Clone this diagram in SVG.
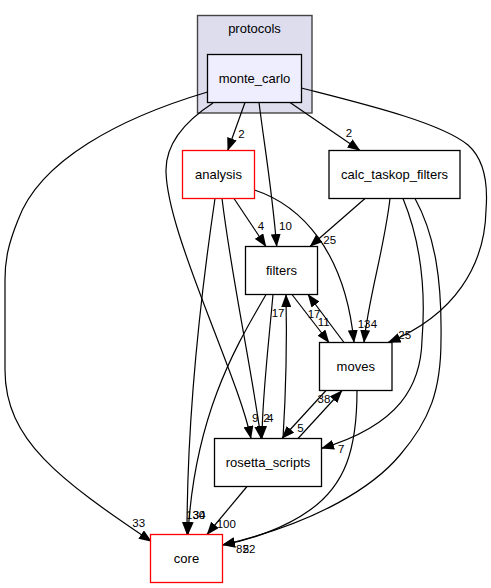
<svg xmlns="http://www.w3.org/2000/svg" width="491" height="588" viewBox="0 0 491 588">
<style>
.node rect{fill:#ffffff;stroke:#000000;stroke-width:1.3}
.red rect{stroke:#ff0000}
.mc rect{fill:#eeeeff}
.cl{fill:#ddddee;stroke:#444444;stroke-width:1.4}
text{font-family:"Liberation Sans",Arial,sans-serif;fill:#000}
.nt{font-size:13px;text-anchor:middle}
.el{font-size:11.5px}
#edges path{fill:none;stroke:#000;stroke-width:1.2;marker-end:url(#ah)}
</style>
<defs>
<marker id="ah" markerUnits="userSpaceOnUse" markerWidth="13" markerHeight="10" viewBox="0 0 13 10" refX="12.5" refY="5" orient="auto">
<path d="M0,0 L13,5 L0,10 Z" fill="#000"/>
</marker>
</defs>
<rect width="491" height="588" fill="#ffffff"/>
<g id="cluster_protocols">
<rect class="cl" x="197.5" y="15.5" width="114.5" height="97.5"/>
<text class="nt" x="254.5" y="33.3">protocols</text>
</g>
<g id="edges">
<path d="M245,102.5 L227.7,150.5"/>
<path d="M290,102.5 L360,150.5"/>
<path d="M259,102.5 C265,150 272,190 276.7,246.5"/>
<path d="M301.5,88 C360,103 440,122 468,145 C485,160 488,185 486,210 C485,265 455,315 388,342.5"/>
<path d="M207.5,92 C120,118 40,160 18,220 C8,245 5,260 5,280 L5,370 C5,440 60,480 151.5,541.5"/>
<path d="M213,103 C190,118 165,140 166,172 C167,205 185,255 210,320 C230,372 245,410 251,438.5"/>
<path d="M234,198.5 L266,246.5"/>
<path d="M254.5,190 C300,205 345,250 354,342.5"/>
<path d="M215,198.5 C200,300 187,420 187,534.5"/>
<path d="M222,198.5 C232,280 250,360 261,438.5"/>
<path d="M266,294.5 C240,340 195,410 188,534.5"/>
<path d="M273,294.5 C268,350 262,400 262,438.5"/>
<path d="M283,438.5 C286,390 287,340 286,294.5"/>
<path d="M292,294.5 L329,342.5"/>
<path d="M344,342.5 L308,294.5"/>
<path d="M365,198.5 L310,246.5"/>
<path d="M390,198.5 C384,250 368,300 364,342.5"/>
<path d="M403,198.5 C420,240 426,290 422,340 C421,385 400,425 321.5,448.3"/>
<path d="M415,198.5 C435,235 442,280 441,340 C441,390 430,420 400,455 C375,485 320,522 222.5,545"/>
<path d="M357,390.5 C357,450 345,485 310,510 C285,528 250,540 222.5,545"/>
<path d="M326,390.5 L282,438.5"/>
<path d="M298,438.5 L342,390.5"/>
<path d="M247,486.5 L207,534.5"/>
</g>
<g id="edge_labels">
<text class="el" x="238.3" y="138.3">2</text>
<text class="el" x="345.7" y="137">2</text>
<text class="el" x="257.7" y="230">4</text>
<text class="el" x="279" y="230">10</text>
<text class="el" x="323.3" y="244.3">25</text>
<text class="el" x="271.7" y="316.7">17</text>
<text class="el" x="307.7" y="318.3">17</text>
<text class="el" x="317.7" y="325.7">11</text>
<text class="el" x="357.7" y="328">13</text>
<text class="el" x="370.7" y="328">4</text>
<text class="el" x="398.3" y="339">25</text>
<text class="el" x="252" y="421.7">9</text>
<text class="el" x="263.3" y="421.7">2</text>
<text class="el" x="267" y="421.7">4</text>
<text class="el" x="317.5" y="402.5">38</text>
<text class="el" x="297.3" y="432.3">5</text>
<text class="el" x="338" y="453.3">7</text>
<text class="el" x="132.3" y="527.3">33</text>
<text class="el" x="216.7" y="528.3">100</text>
<text class="el" x="186" y="519">130</text>
<text class="el" x="192.7" y="519">34</text>
<text class="el" x="236" y="553">82</text>
<text class="el" x="242.7" y="553">52</text>
</g>
<g id="node_monte_carlo" class="node mc">
<rect x="207.5" y="54.5" width="94" height="48"/>
<text class="nt" x="254.5" y="82.5">monte_carlo</text>
</g>
<g id="node_analysis" class="node red">
<rect x="182.5" y="150.5" width="72" height="48"/>
<text class="nt" x="218.5" y="178.5">analysis</text>
</g>
<g id="node_calc_taskop_filters" class="node">
<rect x="329" y="150.5" width="131" height="48"/>
<text class="nt" x="394.5" y="178.5">calc_taskop_filters</text>
</g>
<g id="node_filters" class="node">
<rect x="245.5" y="246.5" width="72" height="48"/>
<text class="nt" x="281.5" y="274.5">filters</text>
</g>
<g id="node_moves" class="node">
<rect x="319.5" y="342.5" width="72.5" height="48"/>
<text class="nt" x="355.75" y="370.5">moves</text>
</g>
<g id="node_rosetta_scripts" class="node">
<rect x="214.5" y="438.5" width="107" height="48"/>
<text class="nt" x="268" y="466.5">rosetta_scripts</text>
</g>
<g id="node_core" class="node red">
<rect x="150.5" y="534.5" width="72" height="48"/>
<text class="nt" x="186.5" y="562.5">core</text>
</g>
</svg>
